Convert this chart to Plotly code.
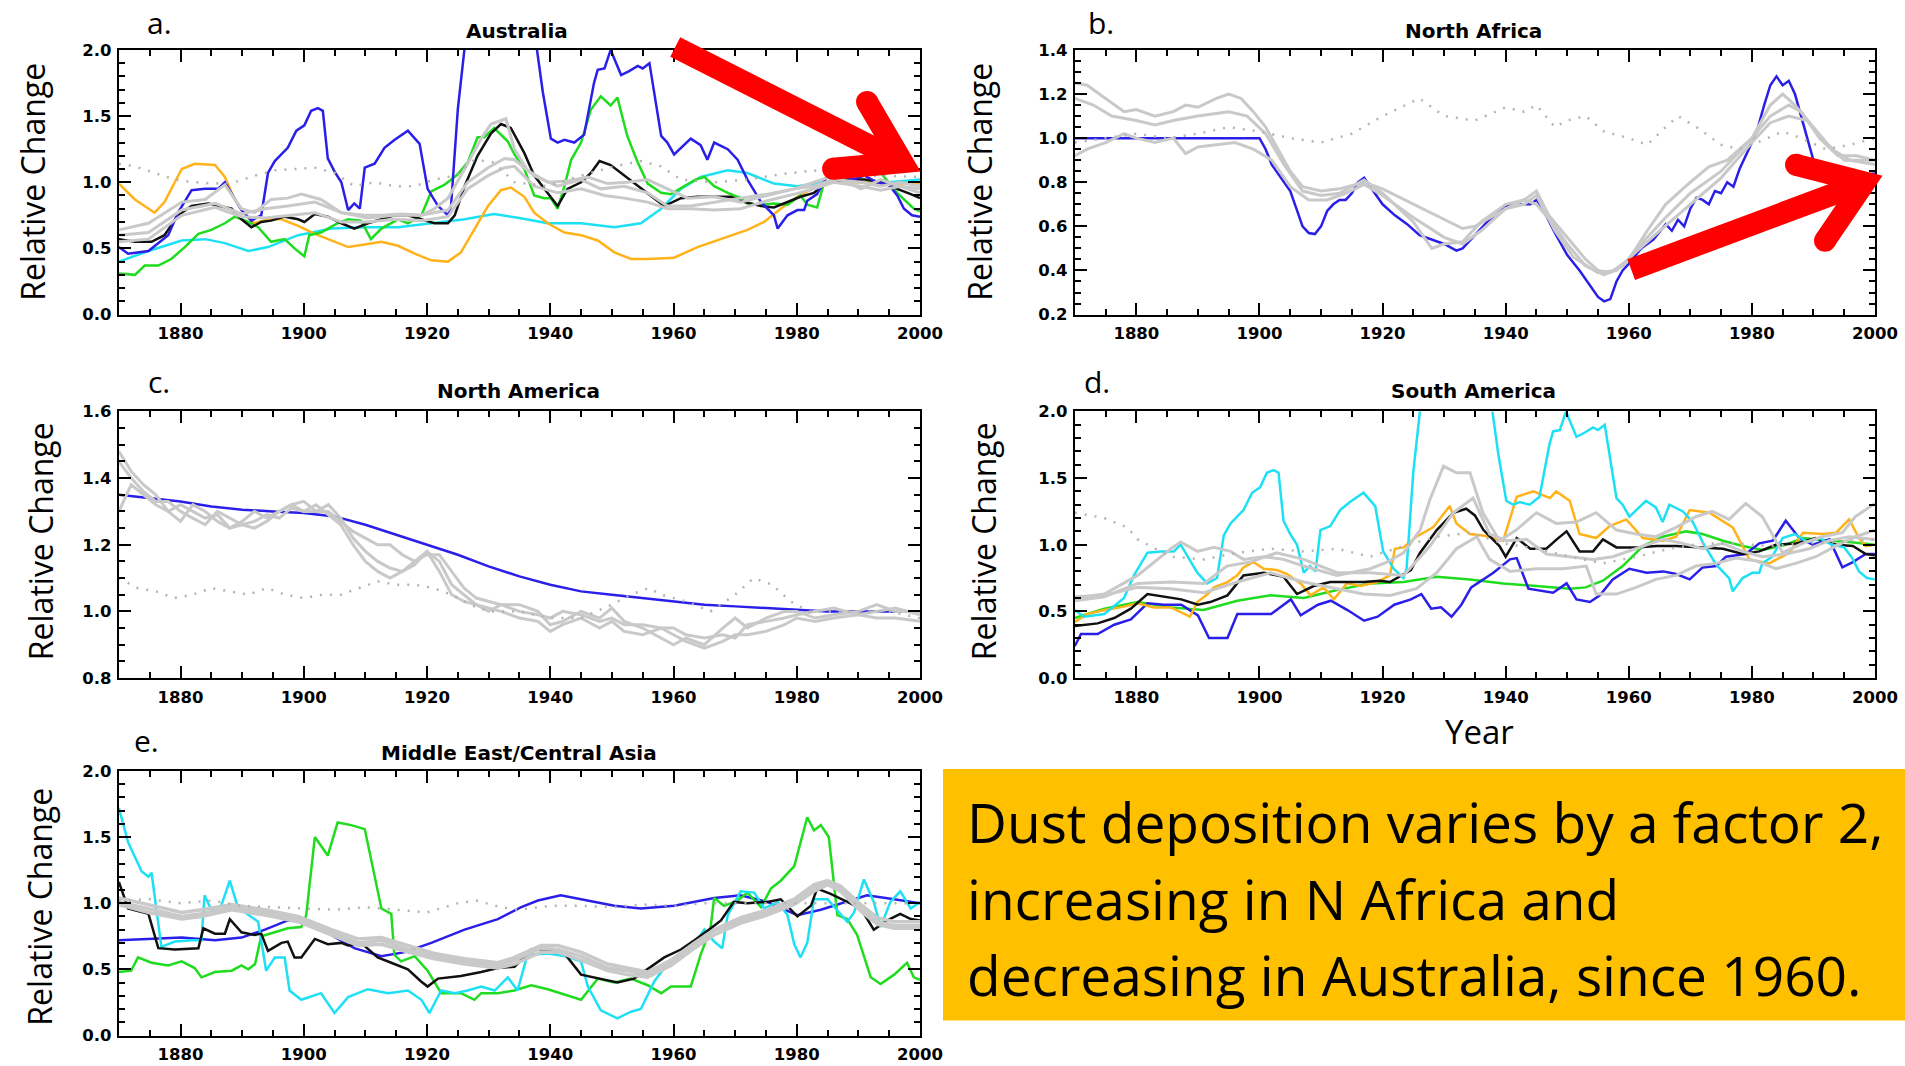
import math
import plotly.graph_objects as go

# ---------------------------------------------------------------- data
# (year, relative change) samples

AUS_BLUE = [(1870,0.51),(1871.5,0.46),(1874.8,0.48),(1878,0.60),(1879.6,0.77),(1881.8,0.94),(1884,0.95),(1886.1,0.95),(1887.2,1.00),(1888.8,0.88),(1889.9,0.79),(1891.5,0.71),(1893.1,0.75),(1894.2,1.07),(1895.3,1.16),(1897.4,1.26),(1898.8,1.39),(1900.1,1.43),(1901.2,1.54),(1902.3,1.56),(1903.1,1.54),(1903.9,1.18),(1905,1.08),(1906.1,1.0),(1907.2,0.79),(1908.2,0.84),(1909.1,0.80),(1909.9,1.11),(1911.5,1.14),(1913.1,1.26),(1914.7,1.32),(1916.9,1.39),(1918.8,1.29),(1920.1,0.95),(1921.8,0.82),(1923.4,0.75),(1923.9,0.82),(1925,1.55),(1926.3,2.1),(1928,2.6),(1931,2.9),(1934,2.7),(1936.5,2.3),(1937.7,2.05),(1938.8,1.68),(1940.1,1.33),(1941.2,1.30),(1942.3,1.32),(1943.9,1.30),(1945.5,1.36),(1947.1,1.75),(1947.7,1.85),(1948.8,1.86),(1949.8,2.0),(1951.5,1.81),(1952.8,1.84),(1954.2,1.88),(1955,1.86),(1956.1,1.90),(1958,1.35),(1959,1.30),(1960.1,1.21),(1961.2,1.26),(1962.8,1.33),(1964.4,1.28),(1965.5,1.17),(1966.6,1.30),(1968.8,1.25),(1970.4,1.17),(1972,1.02),(1974.2,0.85),(1976.3,0.75),(1976.9,0.65),(1978.5,0.75),(1980.1,0.79),(1981.2,0.79),(1981.7,0.86),(1983.3,0.91),(1985,1.05),(1987,1.08),(1989,1.02),(1991,1.05),(1993,1.0),(1995,0.98),(1996.3,0.90),(1997.4,0.80),(1998.7,0.75),(2000,0.74)]
AUS_GREEN = [(1870,0.31),(1872.6,0.30),(1874.2,0.37),(1876.4,0.37),(1878.5,0.42),(1880.7,0.51),(1882.9,0.61),(1885,0.64),(1887.2,0.69),(1888.8,0.74),(1891,0.70),(1892.6,0.66),(1894.7,0.55),(1896.9,0.57),(1898.5,0.50),(1900.1,0.44),(1900.9,0.60),(1902.8,0.62),(1905.5,0.69),(1907.2,0.72),(1909.3,0.71),(1910.9,0.57),(1912.6,0.65),(1915.3,0.72),(1916.9,0.69),(1919.1,0.75),(1920.7,0.93),(1922.8,0.98),(1925,1.06),(1926.6,1.15),(1928.2,1.34),(1929.3,1.34),(1930.9,1.41),(1933.1,1.31),(1934.2,1.21),(1935.8,1.10),(1937.4,0.90),(1939,0.88),(1940.1,0.88),(1941.2,0.80),(1942.3,0.97),(1943.4,1.17),(1945,1.30),(1946.6,1.55),(1948.2,1.65),(1949.8,1.58),(1950.9,1.64),(1952.5,1.35),(1954.2,1.15),(1955.8,0.99),(1958,0.92),(1959.6,0.91),(1961.7,0.97),(1963.6,1.02),(1965,1.04),(1966.6,0.97),(1968.8,0.92),(1970.9,0.88),(1972,0.84),(1974.2,0.83),(1976.3,0.84),(1978.5,0.83),(1980.6,0.90),(1981.7,0.83),(1983.3,0.81),(1984.4,0.99),(1987,1.05),(1990,1.12),(1992,1.18),(1994,1.05),(1996.3,0.92),(1999,0.80),(2000,0.78)]
AUS_BLACK = [(1870,0.57),(1872.6,0.55),(1875.3,0.55),(1877.4,0.60),(1879.6,0.75),(1881.8,0.82),(1884.5,0.84),(1886.6,0.82),(1888.3,0.80),(1889.9,0.72),(1891.5,0.66),(1893.1,0.70),(1894.7,0.71),(1896.9,0.74),(1899.1,0.72),(1900.1,0.70),(1901.8,0.76),(1903.9,0.74),(1906.1,0.69),(1908.2,0.65),(1910.4,0.69),(1912.6,0.72),(1914.7,0.75),(1916.9,0.75),(1919.1,0.72),(1921.2,0.69),(1923.4,0.69),(1924.5,0.75),(1926.1,0.97),(1928.2,1.20),(1930.4,1.37),(1932,1.44),(1933.6,1.41),(1935.8,1.22),(1937.4,1.05),(1939.6,0.92),(1941.2,0.82),(1942.8,0.95),(1945,1.0),(1946.6,1.07),(1948,1.16),(1949.8,1.13),(1952,1.05),(1954.2,0.97),(1956.3,0.90),(1958.5,0.82),(1961.2,0.88),(1963.9,0.89),(1966.6,0.89),(1969.3,0.89),(1971.5,0.85),(1974.2,0.82),(1976.3,0.81),(1978.5,0.85),(1980.6,0.89),(1982.8,0.92),(1985,1.0),(1988,1.02),(1991,1.02),(1994,1.0),(1996.3,0.95),(1998.5,0.91),(2000,0.88)]
AUS_ORANGE = [(1870,0.99),(1872.6,0.87),(1875.8,0.77),(1877.4,0.85),(1880.2,1.10),(1882.3,1.14),(1885.6,1.13),(1887.2,1.04),(1888.8,0.87),(1890.4,0.76),(1892,0.69),(1894.2,0.72),(1896.4,0.72),(1899.1,0.67),(1901.8,0.61),(1904.5,0.56),(1907.2,0.51),(1909.9,0.53),(1912.6,0.55),(1915.3,0.52),(1918,0.46),(1920.7,0.41),(1923.4,0.40),(1925.5,0.47),(1927.7,0.65),(1929.9,0.82),(1932,0.94),(1933.6,0.96),(1935.8,0.89),(1937.4,0.77),(1939.6,0.69),(1942.3,0.62),(1945,0.60),(1947.7,0.56),(1950.4,0.47),(1953.1,0.42),(1955.8,0.42),(1960.1,0.43),(1963.9,0.51),(1967.7,0.57),(1972,0.64),(1974.7,0.70),(1977.4,0.80),(1980.1,0.89),(1982.8,0.96),(1985.5,1.0),(1990,1.0),(1995,0.99),(2000,0.99)]
AUS_CYAN = [(1870,0.40),(1874.8,0.48),(1880.2,0.56),(1884,0.57),(1887.2,0.54),(1891,0.48),(1894.2,0.51),(1899.1,0.60),(1904.5,0.65),(1909.9,0.66),(1915.3,0.66),(1920.7,0.69),(1926.1,0.72),(1930.9,0.76),(1935,0.73),(1939.6,0.69),(1945,0.69),(1950.4,0.66),(1954.7,0.69),(1958,0.80),(1961.2,0.95),(1964.4,1.04),(1968.8,1.09),(1972,1.07),(1976.3,0.99),(1980.1,0.97),(1985.5,1.01),(1990,1.0),(1995,1.0),(2000,1.02)]
AUS_GREY1 = [(1870,0.64),(1874.8,0.69),(1880.2,0.85),(1884,0.87),(1887.2,0.98),(1889.9,0.80),(1892,0.77),(1894.7,0.87),(1897.4,0.88),(1899.6,0.91),(1902.8,0.87),(1906.1,0.77),(1909.9,0.75),(1912.6,0.75),(1915.8,0.76),(1919.1,0.75),(1921.2,0.80),(1923.4,0.88),(1926.1,1.10),(1928.8,1.33),(1930.4,1.44),(1932.8,1.48),(1934.2,1.25),(1936.3,1.09),(1939.6,1.0),(1942.8,1.01),(1946.1,1.04),(1949.3,0.99),(1952.5,1.0),(1955.8,1.02),(1959,0.95),(1962.3,0.88),(1966.6,0.89),(1970.9,0.85),(1975.2,0.90),(1979.6,0.95),(1982.8,1.0),(1986,1.05),(1990.4,0.95),(1993.6,1.02),(1996.8,0.97),(2000,0.95)]
AUS_GREY2 = [(1870,0.60),(1874.8,0.62),(1880.2,0.79),(1885.6,0.84),(1889.9,0.76),(1893.7,0.80),(1897.4,0.82),(1901.8,0.85),(1906.1,0.77),(1910.4,0.73),(1914.7,0.75),(1919.1,0.75),(1923.4,0.79),(1926.6,1.0),(1929.9,1.11),(1932.6,1.18),(1934.2,1.17),(1937.4,1.05),(1941.2,0.97),(1945,1.02),(1948.2,0.95),(1952,0.97),(1955.8,0.92),(1959,0.82),(1962.8,0.82),(1966.6,0.85),(1970.9,0.88),(1975.2,0.91),(1979.6,0.95),(1982.8,0.97),(1986,1.02),(1990.4,1.0),(1993.6,0.97),(1996.8,1.0),(2000,0.97)]
AUS_GREY3 = [(1870,0.55),(1874.8,0.57),(1880.2,0.75),(1885.6,0.81),(1889.9,0.74),(1893.7,0.73),(1898,0.75),(1901.8,0.77),(1906.1,0.70),(1910.4,0.70),(1914.7,0.72),(1919.1,0.71),(1923.4,0.74),(1926.6,0.95),(1929.9,1.05),(1932.6,1.11),(1934.2,1.12),(1937.4,0.97),(1941.2,0.92),(1945,0.95),(1948.8,0.90),(1952,0.88),(1955.8,0.85),(1959,0.80),(1962.8,0.80),(1966.6,0.79),(1970.9,0.80),(1975.2,0.86),(1979.6,0.91),(1982.8,0.95),(1986,1.0),(1990.4,0.97),(1993.6,0.94),(1996.8,0.97),(2000,0.92)]
AUS_DOT = [(1870,1.14),(1872.6,1.12),(1875.8,1.07),(1879.1,1.02),(1882.3,1.0),(1885.6,0.99),(1888.8,1.0),(1892,1.05),(1895.3,1.09),(1898.5,1.10),(1901.8,1.11),(1905,1.07),(1908.2,0.97),(1911.5,1.0),(1914.7,0.97),(1918,0.97),(1921.2,1.02),(1924.5,1.05),(1927.7,1.17),(1930.9,1.15),(1934.2,1.0),(1939.6,0.97),(1945,1.05),(1950.4,1.12),(1954.7,1.16),(1958,1.12),(1961.2,1.02),(1966.6,1.0),(1972,1.02),(1977.4,1.06),(1982.8,1.09),(1988.2,1.05),(1993.6,1.05),(2000,1.04)]

NAF_BLUE = [(1870,1.0),(1900,1.0),(1901,0.95),(1902,0.88),(1904,0.80),(1905,0.76),(1906,0.68),(1907,0.60),(1908,0.57),(1909,0.565),(1910,0.60),(1911,0.67),(1912,0.70),(1913,0.72),(1914,0.72),(1915,0.75),(1916,0.80),(1917,0.82),(1918,0.78),(1920,0.70),(1922,0.65),(1924,0.61),(1926,0.56),(1928,0.54),(1930,0.52),(1932,0.49),(1933,0.50),(1935,0.56),(1937,0.62),(1939,0.67),(1940,0.69),(1942,0.70),(1944,0.70),(1945,0.72),(1946,0.68),(1948,0.57),(1950,0.47),(1952,0.40),(1954,0.32),(1955,0.28),(1956,0.26),(1957,0.27),(1958,0.35),(1959,0.40),(1960,0.43),(1962,0.50),(1964,0.54),(1966,0.61),(1967,0.58),(1968,0.63),(1969,0.60),(1970,0.68),(1971,0.73),(1972,0.72),(1973,0.70),(1974,0.76),(1975,0.75),(1976,0.80),(1977,0.78),(1978,0.86),(1980,0.98),(1981,1.05),(1982,1.15),(1983,1.24),(1984,1.28),(1985,1.24),(1986,1.26),(1987,1.20),(1988,1.10),(1989,1.0),(1990,0.90),(1991,0.86),(1993,0.82),(1996,0.83),(2000,0.84)]
NAF_GREY1 = [(1870,1.25),(1872,1.24),(1875,1.18),(1878,1.12),(1880,1.13),(1883,1.10),(1886,1.12),(1888,1.15),(1890,1.14),(1893,1.18),(1895,1.20),(1897,1.18),(1899,1.12),(1901,1.05),(1903,0.95),(1905,0.85),(1907,0.78),(1910,0.76),(1913,0.77),(1917,0.80),(1920,0.77),(1925,0.70),(1930,0.63),(1933,0.59),(1935,0.60),(1938,0.65),(1940,0.68),(1943,0.72),(1945,0.76),(1947,0.65),(1950,0.55),(1953,0.45),(1955,0.40),(1957,0.39),(1960,0.45),(1963,0.58),(1966,0.70),(1970,0.80),(1973,0.87),(1976,0.90),(1980,1.0),(1983,1.15),(1985,1.20),(1987,1.15),(1990,1.05),(1993,0.95),(1996,0.90),(2000,0.88)]
NAF_GREY2 = [(1870,1.18),(1873,1.15),(1876,1.10),(1880,1.08),(1883,1.06),(1886,1.08),(1890,1.10),(1895,1.12),(1898,1.10),(1901,1.02),(1904,0.88),(1907,0.76),(1910,0.74),(1913,0.75),(1917,0.81),(1920,0.75),(1925,0.62),(1928,0.50),(1930,0.52),(1933,0.53),(1936,0.62),(1940,0.70),(1943,0.72),(1945,0.70),(1948,0.60),(1950,0.52),(1953,0.42),(1956,0.38),(1959,0.42),(1962,0.52),(1966,0.64),(1970,0.75),(1975,0.85),(1980,1.0),(1983,1.10),(1986,1.15),(1988,1.12),(1991,1.0),(1994,0.92),(1997,0.92),(2000,0.90)]
NAF_GREY3 = [(1870,0.92),(1872,0.95),(1875,0.98),(1878,1.02),(1880,1.0),(1883,0.98),(1886,1.0),(1888,0.93),(1890,0.96),(1893,0.97),(1896,0.98),(1899,0.95),(1902,0.90),(1905,0.78),(1908,0.72),(1911,0.72),(1914,0.75),(1917,0.79),(1920,0.74),(1925,0.64),(1930,0.55),(1933,0.52),(1936,0.58),(1940,0.68),(1943,0.70),(1945,0.74),(1948,0.58),(1951,0.46),(1955,0.39),(1958,0.40),(1961,0.48),(1965,0.58),(1970,0.70),(1975,0.82),(1980,0.98),(1983,1.07),(1986,1.10),(1989,1.08),(1992,0.98),(1995,0.90),(2000,0.90)]
NAF_DOT = [(1870,0.98),(1875,1.0),(1880,1.02),(1885,1.0),(1890,1.02),(1895,1.05),(1900,1.03),(1905,1.0),(1910,0.98),(1915,1.02),(1920,1.10),(1926,1.18),(1930,1.10),(1935,1.08),(1940,1.14),(1943,1.12),(1945,1.15),(1948,1.05),(1950,1.08),(1953,1.10),(1956,1.03),(1960,1.0),(1963,0.97),(1966,1.05),(1968,1.10),(1971,1.05),(1975,0.97),(1978,0.95),(1980,0.97),(1985,1.03),(1988,1.0),(1992,0.95),(1996,0.97),(2000,1.0)]

NAM_BLUE = [(1870,1.35),(1880,1.33),(1885,1.315),(1890,1.305),(1895,1.30),(1900,1.295),(1905,1.285),(1910,1.26),(1915,1.23),(1920,1.20),(1925,1.17),(1930,1.135),(1935,1.105),(1940,1.08),(1945,1.06),(1950,1.05),(1955,1.04),(1960,1.03),(1965,1.02),(1970,1.015),(1975,1.01),(1980,1.005),(1985,1.0),(1990,1.0),(1995,1.0),(2000,1.0)]
NAM_GREY1 = [(1870,1.48),(1872,1.42),(1874,1.38),(1876,1.35),(1878,1.30),(1880,1.32),(1882,1.30),(1884,1.28),(1886,1.29),(1888,1.25),(1890,1.27),(1892,1.30),(1894,1.28),(1896,1.30),(1898,1.32),(1900,1.30),(1902,1.30),(1904,1.32),(1906,1.28),(1908,1.22),(1910,1.18),(1912,1.15),(1914,1.13),(1916,1.12),(1918,1.15),(1920,1.18),(1922,1.15),(1924,1.08),(1926,1.05),(1928,1.02),(1930,1.0),(1932,1.02),(1935,1.02),(1938,1.0),(1940,0.96),(1942,0.97),(1945,1.0),(1948,0.98),(1950,1.01),(1952,0.97),(1955,0.95),(1958,0.92),(1960,0.90),(1962,0.92),(1965,0.90),(1968,0.95),(1970,0.98),(1972,0.95),(1975,0.98),(1978,1.0),(1980,1.0),(1983,0.98),(1986,0.99),(1990,1.0),(1993,1.02),(1996,1.0),(2000,1.0)]
NAM_GREY2 = [(1870,1.30),(1872,1.38),(1874,1.35),(1876,1.32),(1878,1.30),(1880,1.27),(1882,1.32),(1884,1.30),(1886,1.27),(1888,1.25),(1890,1.26),(1892,1.25),(1894,1.27),(1896,1.30),(1898,1.32),(1900,1.33),(1902,1.30),(1904,1.30),(1906,1.27),(1908,1.24),(1910,1.22),(1912,1.20),(1914,1.20),(1916,1.17),(1918,1.15),(1920,1.17),(1922,1.17),(1924,1.12),(1926,1.07),(1928,1.04),(1930,1.03),(1932,1.02),(1935,1.0),(1938,0.99),(1940,0.98),(1942,1.0),(1945,0.99),(1948,0.97),(1950,0.98),(1952,0.96),(1955,0.96),(1958,0.95),(1960,0.95),(1962,0.93),(1965,0.92),(1968,0.93),(1970,0.92),(1972,0.96),(1975,0.97),(1978,0.98),(1980,0.99),(1983,1.0),(1986,1.01),(1990,0.99),(1993,1.0),(1996,1.01),(2000,0.99)]
NAM_GREY3 = [(1870,1.45),(1872,1.40),(1874,1.36),(1876,1.33),(1878,1.33),(1880,1.30),(1882,1.28),(1884,1.26),(1886,1.30),(1888,1.28),(1890,1.26),(1892,1.27),(1894,1.29),(1896,1.28),(1898,1.31),(1900,1.30),(1902,1.32),(1904,1.29),(1906,1.26),(1908,1.20),(1910,1.15),(1912,1.12),(1914,1.10),(1916,1.12),(1918,1.14),(1920,1.18),(1922,1.12),(1924,1.05),(1926,1.03),(1928,1.02),(1930,1.01),(1932,1.0),(1935,0.98),(1938,0.97),(1940,0.94),(1942,0.96),(1945,0.98),(1948,0.95),(1950,0.97),(1952,0.94),(1955,0.93),(1958,0.95),(1960,0.93),(1962,0.91),(1965,0.89),(1968,0.91),(1970,0.93),(1972,0.93),(1975,0.94),(1978,0.96),(1980,0.98),(1983,0.97),(1986,0.98),(1990,0.99),(1993,0.98),(1996,0.98),(2000,0.97)]
NAM_DOT = [(1870,1.10),(1873,1.07),(1876,1.06),(1879,1.04),(1882,1.05),(1885,1.07),(1888,1.06),(1891,1.05),(1894,1.07),(1897,1.05),(1900,1.04),(1903,1.05),(1906,1.05),(1909,1.07),(1912,1.09),(1915,1.08),(1918,1.08),(1921,1.07),(1924,1.05),(1927,1.02),(1930,1.0),(1935,1.0),(1940,0.98),(1945,0.98),(1950,1.02),(1953,1.05),(1956,1.07),(1958,1.05),(1962,1.03),(1966,1.0),(1970,1.05),(1973,1.10),(1976,1.08),(1979,1.03),(1982,1.0),(1985,1.0),(1990,1.0),(1995,1.0),(2000,0.98)]

SAM_CYAN = AUS_BLUE  # the same record is drawn in cyan in panel d
SAM_BLUE = [(1870,0.24),(1871,0.33),(1873.7,0.33),(1876.4,0.40),(1879.1,0.44),(1881.8,0.56),(1884.5,0.55),(1887.3,0.55),(1890,0.47),(1891.8,0.30),(1894.8,0.30),(1896.4,0.48),(1899.7,0.48),(1901.9,0.48),(1905.1,0.59),(1906.7,0.47),(1909.5,0.55),(1911.6,0.58),(1914.3,0.51),(1917,0.43),(1919.2,0.46),(1921.9,0.55),(1924.6,0.59),(1926.3,0.63),(1927.9,0.52),(1929.5,0.53),(1931.2,0.46),(1932.8,0.55),(1934.4,0.68),(1938,0.79),(1940.7,0.89),(1941.8,0.90),(1943.7,0.67),(1947.7,0.64),(1949.9,0.71),(1951.5,0.59),(1953.7,0.57),(1955.3,0.62),(1957.4,0.74),(1960.1,0.82),(1962.9,0.79),(1965.6,0.80),(1967.7,0.78),(1969.9,0.74),(1972,0.83),(1974.2,0.84),(1975.8,0.91),(1979,0.93),(1981.2,1.01),(1983.4,1.03),(1985.5,1.18),(1987.7,1.05),(1989.9,1.0),(1992.6,1.04),(1994.7,0.83),(1996.4,0.87),(1998.5,0.93),(2000,0.93)]
SAM_BLACK = [(1870,0.39),(1873.7,0.41),(1876.4,0.45),(1879.1,0.52),(1881.8,0.63),(1884.5,0.61),(1887.3,0.59),(1890,0.55),(1892,0.57),(1894.8,0.62),(1897.4,0.77),(1900.7,0.79),(1903.9,0.76),(1906.1,0.63),(1908.8,0.69),(1911.5,0.72),(1914.3,0.72),(1916.9,0.72),(1919.6,0.73),(1921.2,0.72),(1924.6,0.81),(1926.1,0.94),(1928.8,1.11),(1931.5,1.24),(1933.6,1.27),(1935,1.22),(1936.4,1.11),(1939,0.99),(1940,0.91),(1941.8,1.05),(1944,0.97),(1946.6,0.97),(1948.3,1.04),(1949.9,1.10),(1952,0.95),(1954.2,0.95),(1955.8,1.04),(1958,0.98),(1961.2,0.98),(1964.5,0.99),(1967.7,0.99),(1972,0.98),(1975.3,0.97),(1978.5,0.93),(1981.2,0.95),(1983.9,1.0),(1987.2,1.01),(1990.4,1.05),(1993.7,1.0),(1996.4,0.99),(1998.5,0.93),(2000,0.92)]
SAM_ORANGE = [(1870,0.42),(1872,0.48),(1874.8,0.51),(1877.4,0.53),(1880.2,0.56),(1882.9,0.53),(1885.6,0.53),(1888.7,0.46),(1889.9,0.57),(1891.6,0.63),(1892.6,0.68),(1894.8,0.72),(1896.4,0.77),(1897.4,0.83),(1899,0.87),(1900.7,0.82),(1902.8,0.81),(1904.5,0.78),(1906.7,0.71),(1908.3,0.62),(1910.4,0.68),(1912.1,0.59),(1914.2,0.71),(1916.4,0.69),(1919.1,0.72),(1921.2,0.77),(1922,0.97),(1923.4,0.98),(1925.5,1.06),(1928.2,1.13),(1930.9,1.29),(1932,1.16),(1934.2,1.08),(1936.3,1.07),(1939.6,1.03),(1941.8,1.36),(1944.5,1.40),(1947.2,1.35),(1948.2,1.40),(1950.4,1.33),(1952,1.08),(1954.7,1.05),(1956.9,1.14),(1959.6,1.19),(1962.3,1.05),(1965.6,1.03),(1967.7,1.06),(1969.9,1.26),(1973.1,1.24),(1976.9,1.13),(1979.6,0.89),(1982.8,0.86),(1986.1,0.94),(1988.3,1.09),(1991.5,1.08),(1993.7,1.09),(1995.8,1.19),(1997.4,1.05),(1998.5,0.99),(2000,1.0)]
SAM_GREEN = [(1870,0.45),(1874.8,0.52),(1880.2,0.57),(1885.6,0.53),(1890.9,0.51),(1896.4,0.58),(1901.8,0.62),(1907.2,0.60),(1912.6,0.66),(1918,0.71),(1923.4,0.72),(1928.8,0.76),(1934.2,0.74),(1939.6,0.71),(1945,0.69),(1950.4,0.67),(1953,0.68),(1955.8,0.73),(1959,0.84),(1962.3,0.99),(1965.5,1.06),(1969.3,1.10),(1972,1.08),(1975.3,1.03),(1978.5,0.99),(1981.8,0.96),(1985.5,1.0),(1988.3,1.05),(1992.6,1.03),(1995.8,1.02),(2000,1.0)]
SAM_GREY1 = [(1870,0.60),(1874.8,0.63),(1880.2,0.77),(1885.6,0.97),(1887.2,1.02),(1889.9,0.95),(1892.6,0.98),(1895.3,0.95),(1897.4,0.89),(1900.7,0.91),(1903.9,0.89),(1907.2,0.84),(1912.6,0.77),(1918,0.82),(1920.7,0.87),(1923.4,0.94),(1926.1,1.11),(1927.7,1.34),(1929.9,1.59),(1932,1.54),(1934.2,1.54),(1935.8,1.31),(1936.3,1.24),(1939,1.03),(1941.7,1.11),(1945,1.24),(1948.2,1.16),(1951.5,1.17),(1954.7,1.24),(1958,1.11),(1961.2,1.08),(1964.4,1.06),(1967.7,1.13),(1970.9,1.21),(1973.6,1.25),(1976.3,1.19),(1979,1.31),(1981.7,1.21),(1985,0.94),(1988.2,1.01),(1991.4,1.06),(1994.7,1.09),(1996.8,1.21),(2000,1.31)]
SAM_GREY2 = [(1870,0.58),(1874.8,0.61),(1880.2,0.71),(1885.6,0.72),(1891,0.71),(1894.7,0.84),(1898.5,0.87),(1902.8,0.94),(1907.2,0.89),(1912.6,0.79),(1918,0.79),(1923.4,0.77),(1927.7,0.99),(1931.5,1.24),(1934.7,1.35),(1937.4,1.08),(1940.1,1.03),(1943.4,1.04),(1946.6,0.93),(1950.4,0.91),(1954.2,0.89),(1957.4,0.91),(1961.2,0.97),(1965.5,1.04),(1968.8,1.01),(1972,0.97),(1975.2,1.01),(1978.5,0.95),(1981.7,0.91),(1985.5,0.93),(1989.3,0.97),(1992.5,1.03),(1995.8,1.06),(2000,1.04)]
SAM_GREY3 = [(1870,0.61),(1874.8,0.62),(1880.2,0.68),(1885.6,0.67),(1891,0.64),(1896.4,0.72),(1901.8,0.79),(1907.2,0.72),(1912.6,0.67),(1916.9,0.63),(1921.2,0.62),(1925.5,0.67),(1928.8,0.79),(1932,0.97),(1935.3,1.06),(1937.4,0.89),(1940.7,0.80),(1945,0.82),(1949.3,0.82),(1953.1,0.84),(1954.7,0.63),(1958,0.63),(1961.2,0.68),(1964.4,0.74),(1967.7,0.77),(1970.9,0.84),(1974.2,0.86),(1977.4,0.90),(1980.6,0.88),(1983.9,0.82),(1987.1,0.86),(1990.4,0.91),(1993.6,0.99),(1996.8,1.06),(2000,1.11)]
SAM_DOT = [(1870,1.24),(1874.8,1.20),(1878.5,1.13),(1880.2,1.04),(1885.6,0.91),(1891,0.89),(1896.4,0.94),(1901.8,0.97),(1907.2,0.95),(1912.6,0.97),(1918,0.91),(1923.4,0.99),(1928.8,1.06),(1934.2,1.09),(1939.6,1.01),(1945,0.97),(1950.4,0.91),(1955.8,0.86),(1961.2,0.91),(1966.6,0.97),(1972,1.01),(1977.4,1.01),(1982.8,0.99),(1988.2,1.01),(1993.6,1.02),(2000,1.04)]

MEA_BLUE = [(1870,0.72),(1880.2,0.74),(1885.6,0.72),(1889.9,0.74),(1893.7,0.80),(1897.4,0.87),(1900.7,0.86),(1904.5,0.76),(1908.2,0.66),(1912.6,0.60),(1916.4,0.63),(1920.7,0.70),(1926.1,0.80),(1931.5,0.88),(1935.3,0.97),(1938,1.02),(1941.7,1.06),(1945,1.03),(1950.4,0.98),(1954.7,0.96),(1960.1,0.98),(1966.6,1.04),(1970.9,1.06),(1975.2,1.01),(1980.1,0.91),(1983.9,0.95),(1988.2,1.01),(1991.4,1.06),(1995.8,1.03),(2000,1.0)]
MEA_BLACK = [(1870,1.16),(1871.5,0.96),(1874.8,0.92),(1876.4,0.66),(1879.1,0.65),(1882.9,0.66),(1883.7,0.81),(1885.6,0.77),(1887.2,0.77),(1888,0.88),(1889.9,0.78),(1892,0.76),(1893.1,0.77),(1894.2,0.64),(1896.4,0.70),(1897.4,0.71),(1898.5,0.59),(1899.6,0.59),(1901.8,0.73),(1903.9,0.69),(1906.1,0.70),(1907.2,0.68),(1909.3,0.70),(1912,0.59),(1914.2,0.55),(1916.9,0.50),(1919,0.41),(1920.1,0.37),(1921.8,0.43),(1925.5,0.45),(1928.8,0.48),(1931.5,0.51),(1934.2,0.52),(1936.9,0.65),(1939.6,0.65),(1942.3,0.62),(1945,0.46),(1947.7,0.43),(1950.9,0.40),(1953.6,0.43),(1955.8,0.50),(1958.5,0.59),(1961.2,0.65),(1963.4,0.72),(1966.6,0.83),(1967.7,0.87),(1969.8,1.01),(1972,1.0),(1975.2,1.01),(1977.4,1.03),(1980.1,0.90),(1982.3,0.98),(1983.3,1.11),(1985.5,1.07),(1988.2,1.01),(1990.4,0.96),(1992.5,0.80),(1994.7,0.87),(1996.8,0.92),(1998.5,0.88),(2000,0.87)]
MEA_CYAN = [(1870,1.72),(1871.5,1.46),(1873.7,1.24),(1874.8,1.20),(1875.3,1.23),(1876.9,0.67),(1879.1,0.71),(1881.8,0.72),(1883.4,0.72),(1883.9,1.06),(1885,0.95),(1886.6,0.98),(1888,1.17),(1889.3,0.97),(1892.6,0.86),(1893.9,0.49),(1895.3,0.59),(1896.9,0.59),(1897.7,0.34),(1899.6,0.27),(1902.8,0.32),(1905,0.17),(1907.2,0.29),(1910.4,0.35),(1913.7,0.32),(1916.9,0.34),(1919.1,0.27),(1920.4,0.17),(1922.3,0.34),(1924.5,0.32),(1926.6,0.34),(1928.8,0.37),(1931,0.34),(1933.1,0.44),(1934.7,0.34),(1936.3,0.61),(1939.6,0.62),(1942.3,0.60),(1945,0.56),(1946.1,0.37),(1948.2,0.19),(1950.9,0.13),(1953.1,0.18),(1954.7,0.20),(1956.9,0.41),(1959,0.54),(1962.3,0.62),(1965,0.80),(1966.6,0.71),(1967.9,0.66),(1968.8,0.91),(1970.9,1.09),(1973.1,1.08),(1974.7,0.96),(1976.9,1.01),(1978.5,0.91),(1979.6,0.69),(1980.6,0.59),(1981.7,0.70),(1982.8,1.03),(1985,1.03),(1988.2,0.86),(1989.3,0.93),(1990.9,1.18),(1992.5,1.01),(1993.6,0.82),(1995.2,1.01),(1996.8,1.09),(1998.5,0.96),(2000,1.01)]
MEA_GREEN = [(1870,0.48),(1872,0.49),(1873.1,0.59),(1875.3,0.55),(1878,0.53),(1880.2,0.56),(1882.3,0.51),(1883.4,0.44),(1885.6,0.48),(1888.3,0.49),(1889.9,0.53),(1891,0.50),(1892.1,0.54),(1893.1,0.75),(1895.3,0.78),(1897.4,0.81),(1899.6,0.82),(1900.4,0.91),(1901.8,1.50),(1903.9,1.36),(1905.5,1.61),(1907.7,1.59),(1909.9,1.56),(1912.6,0.96),(1914.2,0.92),(1914.7,0.61),(1915.8,0.56),(1918,0.60),(1920.1,0.49),(1922.3,0.32),(1925.5,0.32),(1927.7,0.27),(1928.8,0.32),(1931.5,0.32),(1934.2,0.34),(1936.9,0.38),(1939.6,0.35),(1941.7,0.32),(1945,0.27),(1947.7,0.43),(1950.4,0.40),(1953.1,0.43),(1955.8,0.38),(1958,0.32),(1959.6,0.37),(1962.8,0.37),(1964.4,0.61),(1966,0.81),(1966.6,1.04),(1968.2,0.98),(1970.4,1.02),(1972,1.08),(1974.2,0.97),(1975.8,1.11),(1977.4,1.17),(1979.6,1.28),(1981.7,1.65),(1982.8,1.55),(1983.9,1.59),(1985.2,1.50),(1986.6,0.91),(1988.2,0.88),(1989.8,0.76),(1992,0.44),(1993.6,0.39),(1995.8,0.46),(1997.9,0.55),(1999,0.44),(2000,0.42)]
MEA_GREY1 = [(1870,1.01),(1874.8,0.96),(1880.2,0.90),(1883.4,0.92),(1888.3,0.97),(1893.7,0.93),(1899.1,0.88),(1904.5,0.78),(1908.8,0.70),(1912.6,0.72),(1916.9,0.65),(1921.2,0.60),(1926.1,0.56),(1931.5,0.53),(1934.2,0.57),(1938.5,0.66),(1941.2,0.65),(1945,0.60),(1949.3,0.51),(1952.5,0.49),(1955.8,0.46),(1959.6,0.56),(1963.4,0.69),(1966.6,0.79),(1970.9,0.87),(1975.2,0.93),(1979.6,1.01),(1982.8,1.12),(1985,1.16),(1987.1,1.11),(1990.4,0.96),(1993.1,0.86),(1995.8,0.83),(2000,0.83)]
MEA_GREY2 = [(1870,1.04),(1874.8,0.99),(1880.2,0.93),(1883.4,0.95),(1888.3,0.99),(1893.7,0.95),(1899.1,0.90),(1904.5,0.80),(1908.8,0.73),(1912.6,0.74),(1916.9,0.68),(1921.2,0.62),(1926.1,0.58),(1931.5,0.55),(1934.2,0.59),(1938.5,0.68),(1941.2,0.68),(1945,0.63),(1949.3,0.54),(1952.5,0.51),(1955.8,0.48),(1959.6,0.57),(1963.4,0.70),(1966.6,0.80),(1970.9,0.89),(1975.2,0.95),(1979.6,1.03),(1982.8,1.14),(1985,1.17),(1987.1,1.13),(1990.4,0.99),(1993.1,0.89),(1995.8,0.86),(2000,0.86)]
MEA_GREY3 = [(1870,0.99),(1874.8,0.93),(1880.2,0.88),(1883.4,0.90),(1888.3,0.95),(1893.7,0.91),(1899.1,0.86),(1904.5,0.76),(1908.8,0.68),(1912.6,0.69),(1916.9,0.63),(1921.2,0.58),(1926.1,0.54),(1931.5,0.51),(1934.2,0.54),(1938.5,0.63),(1941.2,0.63),(1945,0.57),(1949.3,0.49),(1952.5,0.46),(1955.8,0.44),(1959.6,0.53),(1963.4,0.66),(1966.6,0.76),(1970.9,0.85),(1975.2,0.91),(1979.6,0.99),(1982.8,1.09),(1985,1.14),(1987.1,1.09),(1990.4,0.94),(1993.1,0.84),(1995.8,0.81),(2000,0.81)]
MEA_DOT = [(1870,1.02),(1875,1.03),(1880,1.0),(1885,1.02),(1890,0.98),(1895,0.97),(1900,0.96),(1905,0.95),(1910,0.97),(1915,0.95),(1920,0.93),(1925,1.0),(1928,1.02),(1932,0.97),(1935,0.95),(1940,0.98),(1945,0.98),(1950,0.97),(1955,0.99),(1960,0.98),(1965,1.0),(1970,1.0),(1975,1.0),(1980,1.0),(1985,1.0),(1990,1.0),(1995,1.0),(2000,1.0)]

PANEL_TITLES = ["Australia", "North Africa", "North America", "South America", "Middle East/Central Asia"]
PANEL_LETTERS = ["a.", "b.", "c.", "d.", "e."]
X_TICKS = [1880, 1900, 1920, 1940, 1960, 1980, 2000]
Y_LABEL = "Relative Change"
X_LABEL = "Year"
NOTE_LINES = ["Dust deposition varies by a factor 2,", "increasing in N Africa and", "decreasing in Australia, since 1960."]

# ---------------------------------------------------------------- styling
W, H = 1905, 1066
# the captured page comes out slightly scaled; positions below are target
# pixel positions and are mapped back through this measured transform
SX, SY, OY = 0.989, 0.9836, 7.0
BLUE, GREEN, CYAN, ORANGE, BLACK = "#2a1fe8", "#1fdc1f", "#1ee0f5", "#ffb21a", "#111111"
GREY, DOTC, RED, GOLD = "#c9c9c9", "#b3b3b3", "#ff0000", "#ffc000"
TICKFONT = dict(family="DejaVu Sans", size=16.5, color="black", weight="bold")


def fx(x):
    return (x / SX) / W


def fy(y):
    return 1 - ((y - OY) / SY) / H


# panel boxes in target pixels: left, right, top, bottom
PANELS = [
    dict(box=(119, 921, 48, 313), yr=(0, 2), dt=0.5, mdt=0.1,
         colored=[(AUS_CYAN, CYAN), (AUS_ORANGE, ORANGE), (AUS_GREEN, GREEN), (AUS_BLACK, BLACK), (AUS_BLUE, BLUE)],
         greys=[AUS_GREY1, AUS_GREY2, AUS_GREY3], dot=AUS_DOT, gw=3,
         title=(518, 29), letter=(160, 21), ylab=(33, 180)),
    dict(box=(1076, 1877, 48, 313), yr=(0.2, 1.4), dt=0.2, mdt=0.05,
         colored=[(NAF_BLUE, BLUE)],
         greys=[NAF_GREY1, NAF_GREY2, NAF_GREY3], dot=NAF_DOT, gw=3,
         title=(1475, 29), letter=(1102, 21), ylab=(981, 180)),
    dict(box=(119, 921, 410, 677), yr=(0.8, 1.6), dt=0.2, mdt=0.05,
         colored=[(NAM_BLUE, BLUE)],
         greys=[NAM_GREY1, NAM_GREY2, NAM_GREY3], dot=NAM_DOT, gw=3,
         title=(519, 390), letter=(159, 380), ylab=(40, 540)),
    dict(box=(1076, 1877, 410, 677), yr=(0, 2), dt=0.5, mdt=0.1,
         colored=[(SAM_GREEN, GREEN), (SAM_BLUE, BLUE), (SAM_ORANGE, ORANGE), (SAM_BLACK, BLACK), (SAM_CYAN, CYAN)],
         greys=[SAM_GREY1, SAM_GREY2, SAM_GREY3], dot=SAM_DOT, gw=3,
         title=(1475, 390), letter=(1098, 380), ylab=(984, 540)),
    dict(box=(119, 921, 770, 1035), yr=(0, 2), dt=0.5, mdt=0.1,
         colored=[(MEA_BLUE, BLUE), (MEA_GREEN, GREEN), (MEA_CYAN, CYAN), (MEA_BLACK, BLACK)],
         greys=[MEA_GREY1, MEA_GREY2, MEA_GREY3], dot=MEA_DOT, gw=3.5,
         title=(520, 752), letter=(147, 740), ylab=(40, 906)),
]

fig = go.Figure()
layout = dict(width=W, height=H, autosize=False, margin=dict(l=0, r=0, t=0, b=0),
              paper_bgcolor="white", plot_bgcolor="white", showlegend=False,
              hovermode=False, annotations=[], shapes=[])


def add_line(series, color, width, xa, ya, dash="solid"):
    xs = [p[0] for p in series]
    ys = [p[1] for p in series]
    fig.add_trace(go.Scatter(x=xs, y=ys, mode="lines", xaxis=xa, yaxis=ya,
                             line=dict(color=color, width=width, dash=dash),
                             hoverinfo="skip"))


for i, p in enumerate(PANELS, start=1):
    l, r, t, b = p["box"]
    sfx = "" if i == 1 else str(i)
    xa, ya = "x" + sfx, "y" + sfx
    common = dict(showline=True, linecolor="black", linewidth=2, mirror="ticks",
                  ticks="inside", ticklen=12, tickwidth=2, tickcolor="black",
                  showgrid=False, zeroline=False, tickfont=TICKFONT, fixedrange=True)
    layout["xaxis" + sfx] = dict(common, domain=[fx(l), fx(r)], anchor=ya,
                                 range=[1870, 2000], tickmode="array", tickvals=X_TICKS,
                                 ticklabelstandoff=3,
                                 minor=dict(ticks="inside", ticklen=6, tickwidth=1.5,
                                            tickcolor="black", tick0=1870, dtick=5))
    layout["yaxis" + sfx] = dict(common, domain=[fy(b), fy(t)], anchor=xa,
                                 range=list(p["yr"]), tickmode="linear", tick0=p["yr"][0],
                                 dtick=p["dt"], tickformat=".1f", ticklabelstandoff=2,
                                 minor=dict(ticks="inside", ticklen=6, tickwidth=1.5,
                                            tickcolor="black", tick0=p["yr"][0], dtick=p["mdt"]))
    for series, color in p["colored"]:
        add_line(series, color, 2.5, xa, ya)
    for g in p["greys"]:
        add_line(g, GREY, p["gw"], xa, ya)
    add_line(p["dot"], DOTC, 2.5, xa, ya, dash="2px,8px")

    tx, ty = p["title"]
    layout["annotations"].append(dict(text=PANEL_TITLES[i - 1], x=fx(tx), y=fy(ty), xref="paper", yref="paper",
                                      showarrow=False, xanchor="center", yanchor="middle",
                                      font=dict(family="DejaVu Sans", size=20, color="black", weight="bold")))
    lx, ly = p["letter"]
    layout["annotations"].append(dict(text=PANEL_LETTERS[i - 1], x=fx(lx), y=fy(ly), xref="paper", yref="paper",
                                      showarrow=False, xanchor="center", yanchor="middle",
                                      font=dict(family="Open Sans", size=30, color="black")))
    yx, yy = p["ylab"]
    layout["annotations"].append(dict(text=Y_LABEL, x=fx(yx), y=fy(yy), xref="paper", yref="paper",
                                      showarrow=False, xanchor="center", yanchor="middle", textangle=-90,
                                      font=dict(family="Open Sans", size=32, color="black")))

layout["annotations"].append(dict(text=X_LABEL, x=fx(1481), y=fy(731), xref="paper", yref="paper",
                                  showarrow=False, xanchor="center", yanchor="middle",
                                  font=dict(family="Open Sans", size=33, color="black")))

# ---------------------------------------------------------------- note box
layout["shapes"].append(dict(type="rect", xref="paper", yref="paper", x0=fx(944), x1=fx(1935),
                             y0=fy(1020), y1=fy(768), fillcolor=GOLD, line=dict(width=0), layer="below"))
for line, yc in zip(NOTE_LINES, (821, 898, 974)):
    layout["annotations"].append(dict(text=line, x=fx(966), y=fy(yc), xref="paper", yref="paper",
                                      showarrow=False, xanchor="left", yanchor="middle",
                                      font=dict(family="Open Sans", size=55, color="black")))

# ---------------------------------------------------------------- red arrows


def unit(v):
    L = math.hypot(v[0], v[1])
    return (v[0] / L, v[1] / L)


def intersect(p, d, q, e):
    den = d[0] * e[1] - d[1] * e[0]
    s = ((q[0] - p[0]) * e[1] - (q[1] - p[1]) * e[0]) / den
    return (p[0] + s * d[0], p[1] + s * d[1])


def path_of(pts):
    return "M " + " L ".join(f"{fx(x):.5f},{fy(y):.5f}" for x, y in pts) + " Z"


def add_arrow(start, A, B, P, w):
    """start: shaft tail centre; A, B: wing ends; P: outer point of the head."""
    h = w / 2
    u1 = unit((P[0] - A[0], P[1] - A[1]))
    u2 = unit((P[0] - B[0], P[1] - B[1]))
    bis = unit((u1[0] + u2[0], u1[1] + u2[1]))
    cosang = max(-1.0, min(1.0, u1[0] * u2[0] + u1[1] * u2[1]))
    half = math.acos(cosang) / 2
    m = h / math.sin(half)
    T = (P[0] - m * bis[0], P[1] - m * bis[1])
    # shaft
    u = unit((T[0] - start[0], T[1] - start[1]))
    n = (-u[1] * h, u[0] * h)
    end = (T[0] - u[0] * h, T[1] - u[1] * h)
    rect = [(start[0] + n[0], start[1] + n[1]), (end[0] + n[0], end[1] + n[1]),
            (end[0] - n[0], end[1] - n[1]), (start[0] - n[0], start[1] - n[1])]
    # chevron head
    u1 = unit((T[0] - A[0], T[1] - A[1]))
    u2 = unit((T[0] - B[0], T[1] - B[1]))
    n1 = (-u1[1], u1[0])
    if n1[0] * (B[0] - A[0]) + n1[1] * (B[1] - A[1]) > 0:
        n1 = (-n1[0], -n1[1])
    n2 = (-u2[1], u2[0])
    if n2[0] * (A[0] - B[0]) + n2[1] * (A[1] - B[1]) > 0:
        n2 = (-n2[0], -n2[1])
    Ao = (A[0] + h * n1[0], A[1] + h * n1[1])
    Ai = (A[0] - h * n1[0], A[1] - h * n1[1])
    Bo = (B[0] + h * n2[0], B[1] + h * n2[1])
    Bi = (B[0] - h * n2[0], B[1] - h * n2[1])
    M = intersect(Ao, u1, Bo, u2)
    I = intersect(Ai, u1, Bi, u2)
    chev = [Ao, M, Bo, Bi, I, Ai]
    for pts in (rect, chev):
        layout["shapes"].append(dict(type="path", xref="paper", yref="paper", path=path_of(pts),
                                     fillcolor=RED, line=dict(width=0), layer="above"))
    for c in (A, B):
        layout["shapes"].append(dict(type="circle", xref="paper", yref="paper",
                                     x0=fx(c[0] - h), x1=fx(c[0] + h), y0=fy(c[1] + h), y1=fy(c[1] - h),
                                     fillcolor=RED, line=dict(width=0), layer="above"))


add_arrow((676, 45), (834, 167), (868, 100), (928, 173), 22)
add_arrow((1633, 268), (1798, 163), (1827, 239), (1890, 172), 22)

fig.update_layout(**layout)
fig.write_html("out.html")
